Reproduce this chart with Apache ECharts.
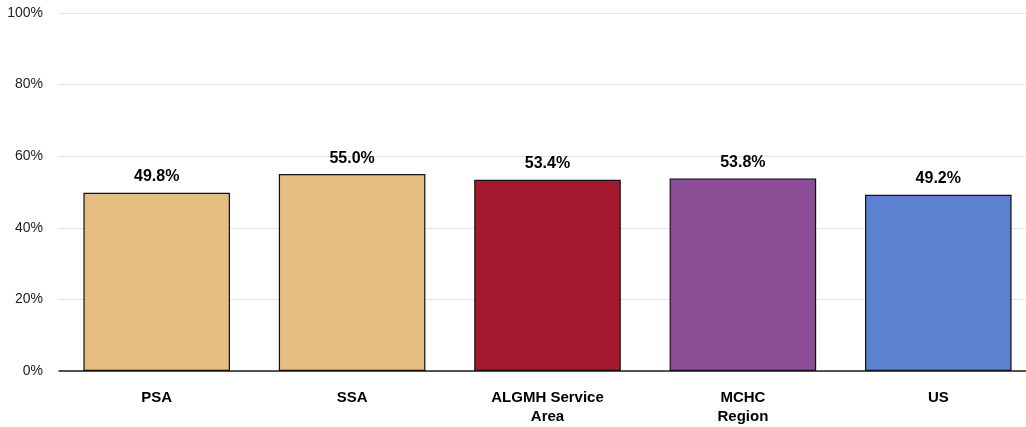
<!DOCTYPE html>
<html><head><meta charset="utf-8">
<script src="https://cdn.jsdelivr.net/npm/echarts@6/dist/echarts.min.js"></script>
<style>html,body{margin:0;padding:0;background:#fff}#c{width:1026px;height:427px}</style>
</head><body><div id="c"></div>
<script>
const categories = ['PSA', 'SSA', 'ALGMH Service\nArea', 'MCHC\nRegion', 'US'];
const values = [49.8, 55.0, 53.4, 53.8, 49.2];
const colors = ['#E6BD80', '#E6BD80', '#A3192F', '#8C4F97', '#5A82D1'];
const yTicks = [0, 20, 40, 60, 80, 100];
const FONT = '"Liberation Sans Narrow","Arial Narrow","Liberation Sans",Arial,sans-serif';
const chart = echarts.init(document.getElementById('c'));
chart.setOption({
  animation: false,
  grid: {left: 59, width: 977, top: 13, bottom: 56, outerBoundsMode: 'none'},
  xAxis: {
    type: 'category', data: categories,
    axisLine: {lineStyle: {color: '#222', width: 1.5}},
    axisTick: {show: false},
    axisLabel: {color: '#000', fontWeight: 'bold', fontSize: 15, fontFamily: FONT, margin: 17, lineHeight: 19}
  },
  yAxis: {
    type: 'value', min: 0, max: 100, interval: 20,
    axisLine: {show: false}, axisTick: {show: false},
    splitLine: {lineStyle: {color: '#e3e3e3', width: 1}},
    axisLabel: {color: '#222', fontSize: 14, fontFamily: FONT, margin: 16,
      formatter: v => yTicks.includes(v) ? v + '%' : ''}
  },
  series: [{
    type: 'bar', barWidth: '75%',
    data: values.map((v, i) => ({value: v, itemStyle: {color: colors[i]}})),
    itemStyle: {borderColor: '#111', borderWidth: 1.2},
    label: {show: true, position: 'top', distance: 8, color: '#000', fontWeight: 'bold', fontSize: 16, fontFamily: FONT,
      formatter: p => p.value.toFixed(1) + '%'}
  }]
});
</script></body></html>
